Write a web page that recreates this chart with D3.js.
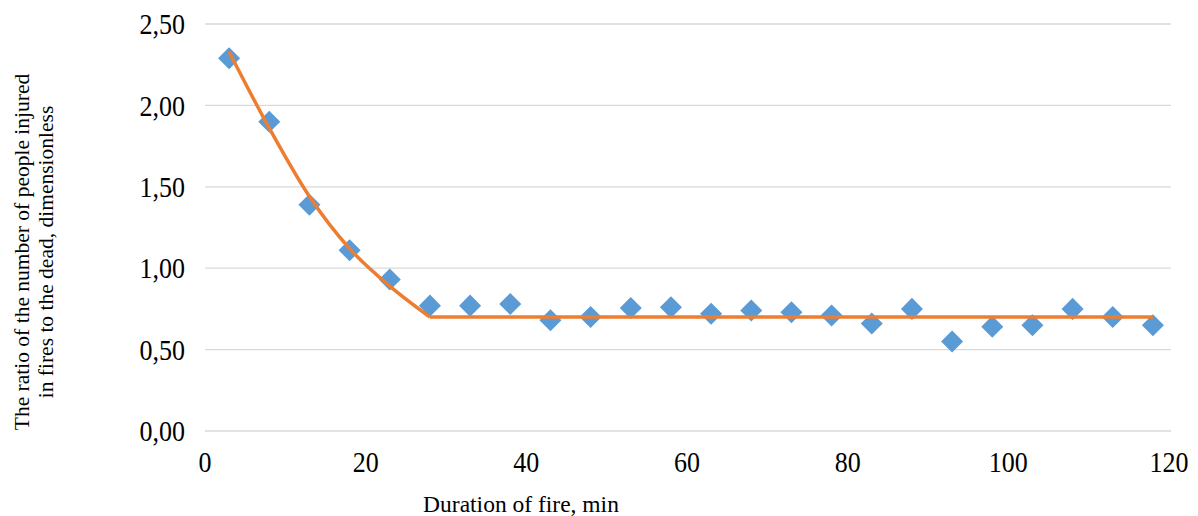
<!DOCTYPE html>
<html>
<head>
<meta charset="utf-8">
<script src="https://cdn.jsdelivr.net/npm/d3@7"></script>
<style>
  body { margin: 0; background: #fff; }
  text { font-family: "Liberation Serif", "Times New Roman", serif; fill: #000; }
</style>
</head>
<body>
<div id="chart"></div>
<script>
// observed points (duration, min -> ratio injured/dead)
const durations = [3, 8, 13, 18, 23, 28, 33, 38, 43, 48, 53, 58, 63, 68, 73, 78, 83, 88, 93, 98, 103, 108, 113, 118];
const ratios = [2.29, 1.90, 1.39, 1.11, 0.93, 0.77, 0.77, 0.78, 0.68, 0.70, 0.755, 0.76, 0.72, 0.74, 0.73, 0.71, 0.66, 0.75, 0.55, 0.64, 0.65, 0.75, 0.70, 0.65];

// fitted curve (decaying part) and the plateau
const fitX = [3, 8, 13, 18, 23, 28];
const fitY = [2.33, 1.86, 1.44, 1.12, 0.89, 0.70];
const plateauX = [28, 118];
const plateauY = [0.70, 0.70];

const xTicks = [0, 20, 40, 60, 80, 100, 120];
const yTicks = [0, 0.5, 1.0, 1.5, 2.0, 2.5];

const width = 1198, height = 516;
const margin = {top: 24, right: 27, bottom: 85, left: 205};

const svg = d3.select('#chart').append('svg').attr('width', width).attr('height', height);

const x = d3.scaleLinear().domain([0, 120]).range([margin.left, 1169]);
const y = d3.scaleLinear().domain([0, 2.5]).range([431, margin.top]);

// gridlines
svg.append('g').selectAll('line').data(yTicks).join('line')
  .attr('x1', x(0)).attr('x2', width - margin.right)
  .attr('y1', d => y(d)).attr('y2', d => y(d))
  .attr('stroke', '#d9d9d9').attr('stroke-width', 1.3);

// y tick labels
const fmtComma = d => d3.format('.2f')(d).replace('.', ',');
svg.append('g').selectAll('text').data(yTicks).join('text')
  .attr('transform', d => `translate(185,${y(d)}) scale(1,1.12)`)
  .attr('dy', '0.35em')
  .attr('text-anchor', 'end').style('font-size', '26px')
  .text(fmtComma);

// x tick labels
svg.append('g').selectAll('text').data(xTicks).join('text')
  .attr('transform', d => `translate(${x(d)},472) scale(1,1.1)`)
  .attr('text-anchor', 'middle').style('font-size', '26px')
  .text(d => d);

// axis titles
svg.append('text').attr('x', 521).attr('y', 512).attr('text-anchor', 'middle')
  .style('font-size', '23.5px').text('Duration of fire, min');

const yt = svg.append('text').attr('transform', 'translate(29,252) rotate(-90)')
  .attr('text-anchor', 'middle').style('font-size', '21.5px');
yt.append('tspan').attr('x', 0).attr('y', 0).text('The ratio of the number of people injured');
yt.append('tspan').attr('x', 0).attr('y', 24).text('in fires to the dead, dimensionless');

// markers
const pts = durations.map((d, i) => [d, ratios[i]]);
svg.append('g').selectAll('path').data(pts).join('path')
  .attr('transform', d => `translate(${x(d[0])},${y(d[1])})`)
  .attr('d', d3.symbol(d3.symbolDiamond2, 310))
  .attr('fill', '#5b9bd5');

// fitted line
const line = d3.line().x(d => x(d[0])).y(d => y(d[1]));
svg.append('path')
  .datum(fitX.map((d, i) => [d, fitY[i]]))
  .attr('d', line.curve(d3.curveMonotoneX))
  .attr('fill', 'none').attr('stroke', '#ed7d31').attr('stroke-width', 3.5);
svg.append('path')
  .datum(plateauX.map((d, i) => [d, plateauY[i]]))
  .attr('d', d3.line().x(d => x(d[0])).y(d => y(d[1])))
  .attr('fill', 'none').attr('stroke', '#ed7d31').attr('stroke-width', 3.5);
</script>
</body>
</html>
